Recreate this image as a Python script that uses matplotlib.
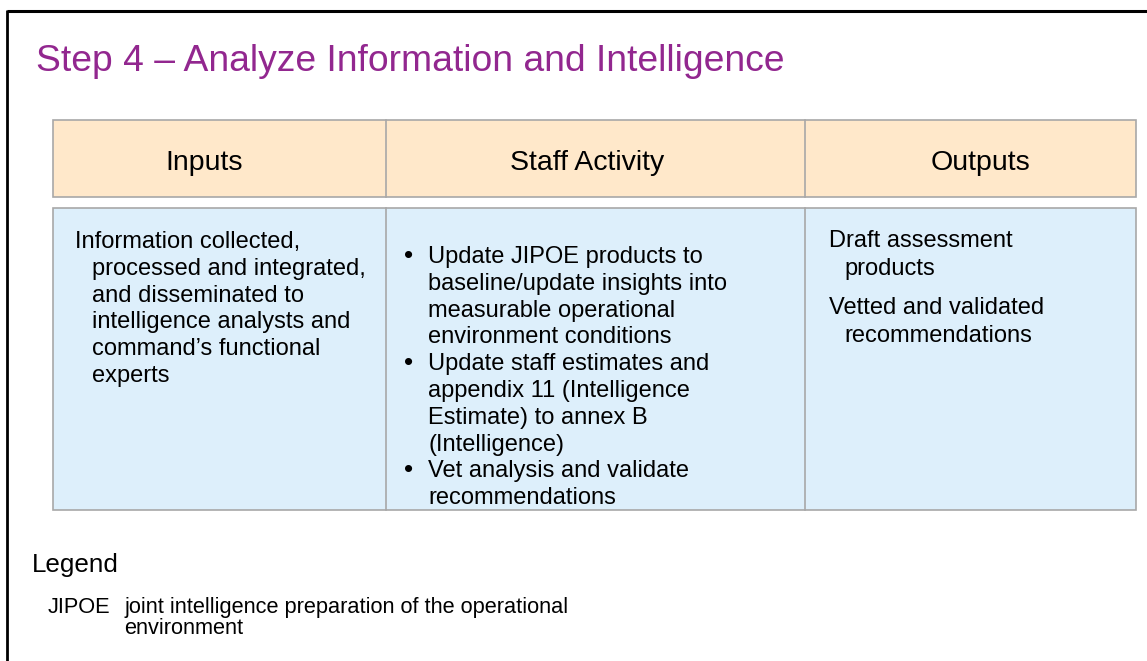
import matplotlib.pyplot as plt
from matplotlib.patches import Rectangle
from matplotlib import font_manager

# content of the slide
title = 'Step 4 – Analyze Information and Intelligence'
headers = ['Inputs', 'Staff Activity', 'Outputs']

inputs_lines = ['Information collected,',
                'processed and integrated,',
                'and disseminated to',
                'intelligence analysts and',
                'command’s functional',
                'experts']

activity_items = [
    ['Update JIPOE products to', 'baseline/update insights into',
     'measurable operational', 'environment conditions'],
    ['Update staff estimates and', 'appendix 11 (Intelligence',
     'Estimate) to annex B', '(Intelligence)'],
    ['Vet analysis and validate', 'recommendations'],
]

output_items = [
    ['Draft assessment', 'products'],
    ['Vetted and validated', 'recommendations'],
]

legend_title = 'Legend'
legend_terms = ['JIPOE']
legend_defs = [['joint intelligence preparation of the operational', 'environment']]

plt.rcParams['font.family'] = ['Liberation Sans', 'DejaVu Sans']
names = {f.name for f in font_manager.fontManager.ttflist}
if 'Liberation Sans Narrow' in names:
    narrow, narrow_size = ['Liberation Sans Narrow', 'Liberation Sans'], 18.7
else:
    narrow, narrow_size = ['Liberation Sans', 'DejaVu Sans'], 15.7

W, H = 1147, 661
fig = plt.figure(figsize=(W / 100, H / 100), dpi=100)
ax = fig.add_axes([0, 0, 1, 1])
ax.set_xlim(0, W)
ax.set_ylim(H, 0)
ax.axis('off')

# slide frame (only top and left visible)
ax.plot([7, W + 5], [11, 11], color='black', lw=2.2, solid_capstyle='butt')
ax.plot([7, 7], [10, H + 5], color='black', lw=2.0, solid_capstyle='butt')

purple = '#92278F'
edge = '#A8A8A8'
ax.text(36, 71, title, fontsize=26.8, color=purple, va='baseline', ha='left')

# table
cols = [53, 386, 805, 1136]
ax.add_patch(Rectangle((cols[0], 120), cols[-1] - cols[0], 77,
                       facecolor='#FFE8CA', edgecolor=edge, lw=1.2))
ax.add_patch(Rectangle((cols[0], 208), cols[-1] - cols[0], 302,
                       facecolor='#DDEFFB', edgecolor=edge, lw=1.2))
for x in cols[1:-1]:
    ax.plot([x, x], [120, 197], color=edge, lw=1.2)
    ax.plot([x, x], [208, 510], color=edge, lw=1.2)

for hx, h in zip([204, 587, 980], headers):
    ax.text(hx, 170, h, fontsize=20.5, ha='center', va='baseline')

body_fs = 17
step = 26.8

# inputs column, hanging indent
for i, line in enumerate(inputs_lines):
    x = 75 if i == 0 else 92
    ax.text(x, 248 + i * step, line, fontsize=body_fs, va='baseline')

# staff activity column, bullets
k = 0
for item in activity_items:
    for j, line in enumerate(item):
        y = 263 + k * step
        if j == 0:
            ax.text(409, y, '•', fontsize=body_fs + 2, ha='center', va='baseline')
        ax.text(428, y, line, fontsize=body_fs, va='baseline')
        k += 1

# outputs column
y = 247
for item in output_items:
    for j, line in enumerate(item):
        x = 829 if j == 0 else 844
        ax.text(x, y, line, fontsize=body_fs, va='baseline')
        y += 28
    y += 11

# legend
ax.text(32, 572, legend_title, fontsize=18.7, va='baseline')
for term, lines in zip(legend_terms, legend_defs):
    ax.text(48, 613, term, fontsize=narrow_size, family=narrow, va='baseline')
    for i, line in enumerate(lines):
        ax.text(124, 613 + i * 21.5, line, fontsize=narrow_size, family=narrow,
                va='baseline')

fig.savefig('out.png', dpi=100)
